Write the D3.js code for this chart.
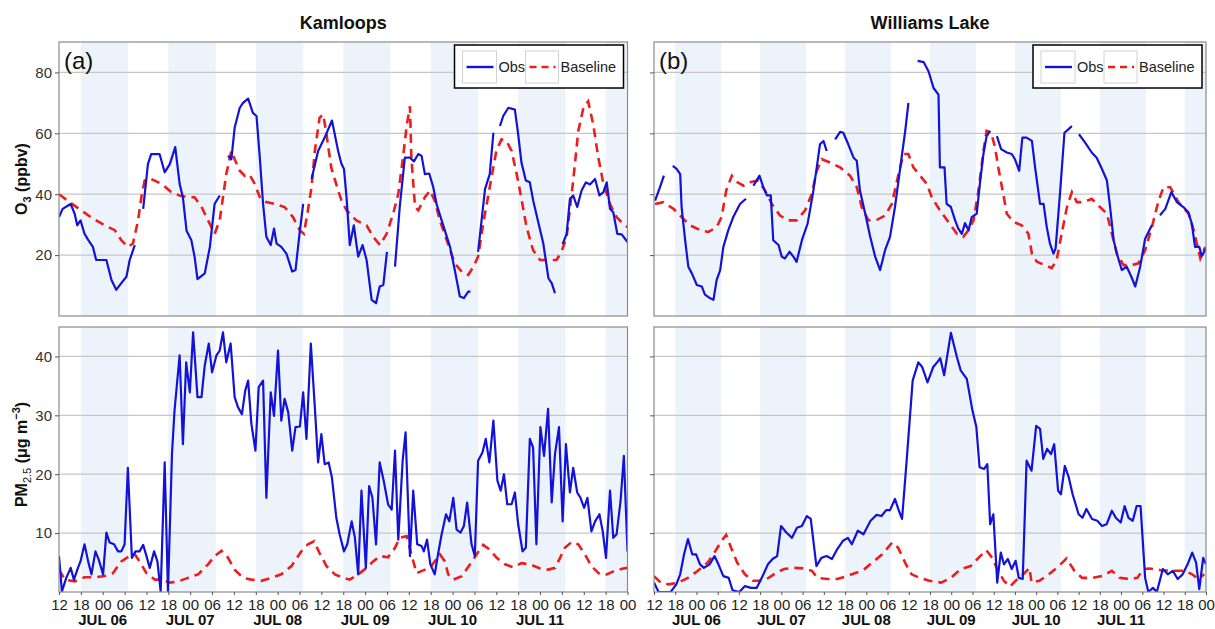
<!DOCTYPE html>
<html>
<head>
<meta charset="utf-8">
<script src="https://cdn.jsdelivr.net/npm/d3@7"></script>
<style>
body { margin: 0; background: #fff; }
svg text { font-family: "Liberation Sans", Arial, sans-serif; }
</style>
</head>
<body>
<script>
// series are [hour since Jul 05 12:00 UTC, value], null = gap in the record
var kamO3Obs = [[0,32.5],[1,35.2],[2.5,36.3],[3.2,36.8],[4.3,33.6],[5,29.8],[5.9,31.4],[7,27],[8,25],[9.3,22.7],[10.2,18.4],[13,18.4],[14.4,11.8],[15.7,8.6],[17.1,10.8],[18.5,12.9],[19.4,18.4],[20.8,23.3],[22,null],
  [23.1,35.2],[24.4,49.9],[25.3,53.2],[27.6,53.2],[29,47.2],[30.4,49.9],[31.9,55.5],[33.1,43.4],[34,39],[35,28],[36.3,25],[37.2,19.5],[38,12.1],[40,14],[41.4,22.7],[42.7,36.8],[44.1,39.6],[45,null],
  [46.4,52.6],[47.3,51.5],[48.2,61.8],[49.6,68.4],[50.5,70],[51.9,71.4],[53.2,66.7],[54.2,65.7],[55.1,52],[56,36.8],[56.9,26],[58.1,23.3],[59,28.7],[59.7,23.8],[61,22.7],[62.4,20.5],[64,14.6],[64.9,15.1],[66,27],[67,36.8],[68,null],
  [69.3,45],[71.1,54.2],[72.9,58.6],[74.9,64.2],[76.6,54.2],[77.5,50],[78.2,48.3],[78.9,39],[79.8,23.3],[80.9,29.8],[82.1,19.5],[83.3,23.3],[84.4,18.4],[85.8,5.3],[87,4.2],[88,9.7],[89,10.2],[90,21.1],[91,null],
  [92.2,16.2],[93.5,35.8],[94.9,52],[96.3,52],[97.4,50.8],[98.6,53.2],[99.5,52.6],[100.4,46.6],[101.6,46.8],[102.7,42.3],[103.6,36.8],[105,31.4],[106.3,26.5],[107.3,22.7],[108.6,15.1],[110,6.4],[111.1,5.9],[112.3,8],[112.9,8],[114,null],
  [115,21.1],[116.9,41.7],[118.2,46.6],[119.2,60.2],[120,null],[121,62.4],[121.9,65.7],[123.3,68.4],[125.1,67.8],[126,59.7],[126.9,50.4],[128.1,44.5],[129.2,43.9],[130.1,38],[131.5,30.9],[132.9,23.8],[134.3,12.4],[135.2,10.8],[136.1,7.5],[137,null],
  [138.2,23.6],[139.3,27],[140.2,38.5],[141.1,39.6],[142.2,35.8],[143.4,41.2],[144.6,43.9],[145.7,43.2],[147.1,45],[148.3,39.6],[149.4,40.7],[150.3,43.9],[151.2,35.2],[152.1,34.1],[153.2,27],[154.4,26.8],[156,24.3]];

var kamO3Base = [[0,40],[2.9,37.4],[6.1,34.7],[9.3,32],[12.5,29.8],[15.3,28.2],[17.1,24.9],[18.9,22.7],[20.3,23.8],[21.7,31.4],[22.6,39],[23.5,44.5],[25.3,45],[28.1,43.4],[30.8,40.7],[33.1,39.6],[35.4,39],[37.2,39],[39.1,35.8],[40.9,31.4],[42.7,27],[44.1,31.4],[45,39],[45.9,46.6],[47.3,54.2],[48.2,51.5],[49.6,47.7],[51,46],[52.3,46.4],[53.7,43.4],[55.1,39],[56.9,37.4],[59.2,36.8],[61.9,35.8],[64.2,32.5],[66.1,28.1],[67.2,27],[68.3,34.7],[69.3,42.3],[70.2,54.2],[71.5,65.1],[72.5,66.2],[73.4,59.7],[74.7,48.8],[76.6,41.2],[77.5,38],[78.9,34.7],[81.6,31.4],[84.4,29.8],[86.2,26],[88.1,23.3],[89.9,27],[91.7,33.6],[93.1,40.1],[94.5,53.2],[95.4,62.4],[96.3,68.9],[96.7,52],[97.7,35.8],[98.6,34.7],[100.4,39],[101.8,41.2],[103.1,37.9],[104.5,31.4],[106.4,24.9],[108.6,17.3],[110.9,14],[112.3,13.5],[113.7,16.2],[115,19.5],[116.4,30.3],[118.2,42.3],[120,54.2],[121.4,58],[122.8,57.5],[124.2,54.2],[125.6,46.6],[127,37.9],[128.3,29.2],[130.1,21.6],[132,18.4],[136.5,18.4],[137.9,21.1],[139.3,26],[141.1,44.5],[142.5,60.8],[143.9,68.4],[145.2,70.5],[146.6,62.9],[148,52],[149.4,43.4],[151.2,36.8],[153,32.5],[154.8,30.3],[156,29.2]];

var wlO3Obs = [[0.3,37.9],[1.7,42.3],[2.8,46.1],[4,null],[5.3,49.3],[6.4,48.3],[7.4,46.6],[7.8,35.8],[8.8,24.9],[9.7,16.2],[10.7,14],[12.1,10.2],[13.5,9.7],[14.4,7],[15.8,5.9],[16.8,5.3],[17.7,11.8],[18.7,15.1],[19.6,22.7],[21,28.2],[22.4,32.5],[24.3,36.8],[26,38.5],[27,null],
  [28.1,42.8],[29.8,46.1],[30.9,42.3],[31.9,39.6],[33,39.6],[33.7,24.9],[35.2,23.3],[36.1,19.5],[37,18.9],[38.3,21.1],[39.4,19.5],[40.3,17.8],[41.8,24.9],[43.4,30.3],[44.9,40.1],[46,48.8],[46.9,56.4],[47.9,57.5],[48.8,54.2],[50,null],
  [51.2,58],[52.6,60.5],[53.5,60.2],[54.9,56.4],[56.4,52],[57.3,51],[58.2,41.2],[59.7,33.6],[61.1,26],[62.5,19.5],[63.9,15.1],[65.3,21.6],[66.7,26],[68.1,35.8],[69.6,48.8],[71,60.8],[71.9,70],[73,null],
  [74.5,83.8],[76.2,83.4],[77.6,80.3],[79,74.9],[80.4,72.7],[80.8,48.8],[82.1,48.8],[82.7,36.8],[83.9,35.8],[85.1,31.4],[86,28.7],[87,27],[87.9,30.5],[88.9,28.2],[89.8,32.5],[91.2,33.6],[92.2,44.5],[93.1,53.2],[94,59.1],[95,60.8],[96,null],
  [96.9,59.1],[98.1,54.8],[99.7,53.7],[101.1,53.2],[102,51.5],[103.2,47.7],[104.1,58.6],[105.3,58.6],[106.8,57.5],[107.7,48.8],[109.1,36.8],[110.1,36.8],[111,29.2],[111.9,23.8],[112.9,20.5],[113.5,22.2],[114.8,41.2],[116,60.2],[117.1,61.3],[118.1,62.4],[119,null],
  [120.1,59.7],[121.8,57],[123.7,53.7],[125.1,52],[126.6,48.3],[128,44.5],[128.9,35.8],[129.9,24.9],[130.8,20.5],[132.2,15.1],[133.6,16.2],[134.9,12.9],[136,9.7],[137.4,16.2],[138.8,25.4],[140.7,29.8],[142,null],
  [143,33.1],[144.5,35.2],[146.2,40.7],[147.8,37.4],[149.6,35.8],[151,34.1],[152,30.3],[152.9,22.7],[154.1,22.7],[154.8,19.7],[156,22.2]];

var wlO3Base = [[0.3,36.8],[2.6,37.4],[5.5,35.2],[7.8,32.5],[10.2,29.8],[13,28.2],[15.4,27.6],[17.7,29.2],[19.1,32.5],[20.4,41.2],[22,46.1],[23.6,43.9],[25.3,42.8],[27.1,43.9],[29.5,44.5],[31.4,41.2],[33.3,36.8],[35.6,33],[38,31.4],[40.3,31.4],[42.7,34.7],[44.6,40.1],[46,47.7],[47.4,51.5],[49.8,50.4],[52.6,48.8],[55.4,46.1],[57.3,42.3],[58.7,35.8],[60.6,31.4],[63,31.6],[65.3,33],[67.2,36.8],[69.1,46.6],[70.5,53.2],[71.9,53.2],[73.3,48.8],[75.2,46.1],[77.1,43.4],[78.5,39],[80.8,34.7],[83.2,30.9],[85.6,27],[87.4,26],[88.9,28.2],[90.3,31.4],[91.7,41.2],[93.1,54.2],[94,60.8],[95.3,60.2],[96.4,55.3],[97.3,48.8],[98.7,40.1],[99.7,33.6],[101.6,30.9],[103.9,29.8],[105.8,27],[106.8,20.5],[108.2,17.8],[110.5,16.7],[112.4,15.7],[113.8,18.4],[115.2,27],[116.7,35.8],[118.1,40.7],[119.5,37.4],[121.4,37.4],[123.7,38.5],[125.6,36.3],[128,33.6],[129.4,27],[130.8,20.5],[132.7,16.7],[135,16.7],[136.9,17.3],[138.8,21.6],[140.7,29.2],[142.6,37.9],[144,42.3],[145.9,42.3],[148.2,37.4],[151.1,33.6],[152.5,28.2],[153.4,23.8],[154.4,18.9],[155.8,22.7]];

var kamPmObs = [[0,6.1],[0.8,0.1],[2,2.4],[3.2,4.1],[4.1,2.1],[5.2,4.1],[5.9,5.2],[7,8.1],[8,5.2],[8.9,3],[10,6.9],[10.9,5.5],[12.1,3],[13,10.1],[13.9,8.4],[15.1,8.1],[16.2,6.9],[17.1,6.9],[18,8.1],[18.9,21.1],[20,5.8],[21,6.9],[22.1,6.9],[23.1,8],[24,6.1],[24.9,4.1],[26.1,6.9],[27,5.2],[27.9,0.1],[29,22],[29.9,0],[31,23.4],[31.7,30.8],[33.1,40.2],[34,25.1],[34.9,39],[35.9,33.9],[36.8,44.1],[38,33.1],[39.1,33.1],[40,38.5],[41.1,42.2],[42,37.3],[43.2,40.2],[44.1,41],[45,44.1],[45.9,39],[47.1,42.2],[48.2,33.1],[49.1,31.4],[50.2,30.2],[51.1,34.2],[51.9,35.9],[52.8,28.5],[53.9,24],[54.8,34.8],[56,35.9],[56.9,16],[58.1,33.9],[59,29.9],[60.1,41],[61,29.1],[61.9,32.8],[62.9,30.5],[64,24],[64.9,28],[66.1,28.1],[67,33.9],[67.9,26],[69.1,42.2],[70.2,31.4],[71.1,22],[72,26.8],[72.9,21.7],[74,22],[74.9,19.4],[76.1,12.6],[77,9.8],
  [78.2,6.9],[79.1,8.1],[80.3,12],[81.2,9.2],[82.1,3],[83,17.2],[84.2,4.1],[85.1,18],[86,16],[87,8.1],[88,22],[89.1,18.9],[90.3,14.9],[91.3,14],[92.2,24],[93.1,8.9],[94.3,22.3],[95.1,27.1],[96.3,6.1],[97.2,17.2],[98.3,8.1],[99.5,7.8],[100.1,6.9],[101,8.9],[101.9,4.7],[103.1,3],[104,6.4],[105,9.8],[106.2,13.2],[107.1,12],[108.2,16],[109.1,10.6],[110.2,10.1],[111.1,11.2],[112,15.2],[113.2,8.1],[114.1,6.1],[115,22.3],[116.2,23.7],[117.1,26],[118.1,22],[119.2,29.1],[120.3,18.9],[121.2,17.2],[122.1,20],[123,14.9],[124.2,14.9],[125.1,16.9],[126,11.5],[127.2,6.9],[128.1,7.5],[129.2,26],[130.1,24.5],[131,8.1],[132.1,28],[133.1,23.1],[134.2,31.1],[135.2,15.2],[136.1,23.4],[137.2,28],[138.2,12],[139.1,25.1],[140.2,16.9],[141.1,21.1],[142.2,16.9],[143.1,16],[144.1,14.3],[145,16],[146.1,10.3],[147.1,12],[148.3,13.2],[149.2,10.3],[150.1,5.8],[151.2,17.2],[152.1,9.2],[153,9.8],[154.1,15.5],[155,23.1],[156,6.9]];

var kamPmBase = [[0,3.8],[1.6,2.1],[4.3,1.8],[7,2.5],[9.8,2.5],[12.5,2.7],[14.8,3.2],[17.1,5.2],[19.4,6.1],[20.8,6.4],[22.1,5.2],[24,3.2],[26.3,2.1],[28.1,2.1],[30.4,1.6],[32.7,1.8],[35.4,2.4],[38.2,3],[40.9,4.7],[42.7,6.1],[44.6,7],[46.4,5.8],[48.2,3.8],[50.5,2.4],[52.8,2.1],[55.5,1.9],[58.3,2.4],[61,3],[63.8,4.4],[66.5,6.9],[68.3,8.1],[70,8.6],[71.5,6.6],[73.4,4.4],[75.7,3],[78,2.4],[79.8,2.1],[82.1,3],[84.4,4.1],[86.2,5.2],[88.1,6.1],[90.3,5.9],[92.2,7.5],[93.5,9.2],[95.4,9.5],[96.7,6.4],[98.1,3.2],[100.4,3.8],[102.2,4.4],[104.5,6.4],[105.9,5.2],[106.8,3],[108.2,2.1],[110.5,2.7],[112.8,4.7],[114.6,6.4],[116.4,8],[118.2,7.2],[120.1,5.8],[122.4,4.7],[124.6,4.2],[126.9,4.9],[129.2,4.7],[132,4],[134.3,3.8],[136.1,4.1],[137.5,5.8],[138.8,7.5],[140.7,8.5],[142.5,8.1],[144.3,6.4],[146.1,4.4],[148.4,3],[150.3,3],[152.5,3.6],[154.8,4],[156,4.1]];

var wlPmObs = [[0,1.6],[1.3,0],[4.7,0],[6.3,1.3],[7.4,3],[8.5,6.4],[9.6,9],[10.8,6.4],[11.9,6.4],[13,4.7],[14.1,4.1],[15.7,4.7],[17.1,6.1],[18.2,4.7],[19.6,2.7],[21.1,2.4],[22.2,0.3],[24.1,0],[25.7,1],[27.4,0.7],[29,0.7],[30.7,2.7],[32.2,4.7],[33.5,5.6],[34.8,6.1],[35.9,11.2],[37.4,10.1],[39,9.2],[40.4,10.9],[41.8,11.2],[43.2,12.9],[44.3,12.4],[45.9,4.4],[47.3,5.8],[48.8,6.1],[50.3,5.6],[51.8,7.3],[53.4,8.7],[54.8,9.2],[55.9,8.1],[57.6,10.4],[59.2,9.8],[61.2,12.1],[62.9,13.1],[64.3,12.9],[65.6,13.9],[66.7,13.9],[68.1,15.8],[69.2,13.8],[70.1,12.4],[71.4,22.3],[73.1,35.9],[74.7,39],[75.8,38.2],[77.3,35.6],[78.9,38.2],[80,39],[80.9,39.7],[82,36.8],[83.9,44],[85.6,39.9],[86.7,37.6],[88.4,36.2],[90,30.8],[91.1,28],[92,21.2],[93.3,20.9],[94.2,21.7],[95,11.5],[95.9,13.2],[97,1.6],[98,6.7],[98.9,4.7],[100,5.6],[101.1,3.9],[102.2,5.3],[103.1,2.4],[104.2,2.2],[105.3,22.3],[106.7,20.6],[108,28.2],[109.1,27.7],[110,22.6],[111.1,24.3],[112.2,23.4],[113.1,25.1],[114.2,17.2],[115,16.6],[116.1,21.4],[117.2,19.5],[118.3,16.6],[120,13.2],[121.1,12.6],[122.2,14.1],[123.8,12.4],[125.3,12.1],[126.6,11.2],[127.9,11.5],[129.4,13.8],[130.5,12.6],[131.9,11.8],[133,14.6],[134.1,12.6],[135.3,12.1],[136.4,14.6],[137.5,14.6],[138.8,2.4],[139.7,0],[141,0.7],[142.1,0],[143.8,3.9],[145.2,3],[146.6,3.6],[148,2.2],[149.4,3],[150.8,4.7],[152.1,6.7],[153.2,5],[154.1,0.5],[155.2,5.8],[156,4.7]];

var wlPmBase = [[0,2.7],[1.9,1.6],[4.1,1.3],[6.9,1.6],[9.6,2.4],[12.4,3.6],[15.2,5],[17.4,7],[19.1,8.7],[20.4,9.7],[21.8,7.5],[23.5,5],[25.7,3],[27.9,1.9],[30.2,1.9],[32.4,2.4],[34.6,3.3],[36.8,3.9],[39.6,4.1],[42.4,4],[44.6,3.6],[46.2,2.4],[49,2.2],[51.8,2.2],[54.5,2.7],[57.3,3.3],[59.5,3.9],[62.3,5.3],[64.5,6.4],[67.3,8.4],[69,7.5],[71.2,4.7],[72.8,3],[75.1,2.4],[77.8,1.9],[81.2,1.6],[83.9,2.4],[86.7,3.9],[89.5,4.4],[91.7,5.8],[93.9,7.1],[95.6,5.8],[97.2,3.6],[98.9,1.9],[100.6,0.9],[102.2,1.9],[103.9,2.7],[106.1,4.1],[106.7,1.6],[108.9,1.9],[111.6,3],[114.4,4.4],[116.6,5.7],[118.8,3.6],[121,2.4],[123.8,2.4],[126.6,2.7],[129.4,3.6],[131.6,2.4],[134.4,2.2],[136.6,2.4],[138.3,3.9],[140,4],[143.3,3.7],[146.6,3.6],[149.9,3.6],[152.1,3],[153.8,2.2],[155.5,3]];

var sites = ["Kamloops", "Williams Lake"];
var tags = ["(a)", "(b)"];
var o3Ticks = [20, 40, 60, 80];
var pmTicks = [10, 20, 30, 40];
var legendLabels = ["Obs", "Baseline"];

var start = Date.UTC(2017, 6, 5, 12);
function hr(t) { return new Date(start + t * 3600e3); }

var obsColor = "#1212d8",
    baseColor = "#ee1d1d",
    nightColor = "#edf3fa";

var svg = d3.select("body").append("svg")
    .attr("width", 1215)
    .attr("height", 629);

var cols = [{x0: 59, x1: 627.5}, {x0: 654, x1: 1206}];
var rows = [
    {y0: 42, y1: 316, domain: [0, 90], ticks: o3Ticks, series: [[kamO3Obs, kamO3Base], [wlO3Obs, wlO3Base]]},
    {y0: 327, y1: 592, domain: [0, 45], ticks: pmTicks, series: [[kamPmObs, kamPmBase], [wlPmObs, wlPmBase]]}
];

// night bands, 18:00 -> 07:00
var nights = d3.utcDay.range(hr(-12), hr(156)).map(function (d) {
    return [d3.utcHour.offset(d, 18), d3.utcHour.offset(d, 31)];
});

rows.forEach(function (row, ri) {
    cols.forEach(function (col, ci) {
        var w = col.x1 - col.x0,
            h = row.y1 - row.y0;

        var x = d3.scaleUtc().domain([hr(0), hr(156)]).range([0, w]);
        var y = d3.scaleLinear().domain(row.domain).range([h, 0]);

        var g = svg.append("g").attr("transform", "translate(" + col.x0 + "," + row.y0 + ")");
        var clipId = "clip" + ri + ci;
        g.append("clipPath").attr("id", clipId)
            .append("rect").attr("width", w).attr("height", h);

        var body = g.append("g").attr("clip-path", "url(#" + clipId + ")");

        body.selectAll("rect.night")
            .data(nights)
            .enter().append("rect")
            .attr("class", "night")
            .attr("x", function (d) { return x(d[0]); })
            .attr("width", function (d) { return x(d[1]) - x(d[0]); })
            .attr("y", 0)
            .attr("height", h)
            .attr("fill", nightColor);

        body.selectAll("line.grid")
            .data(row.ticks)
            .enter().append("line")
            .attr("class", "grid")
            .attr("x1", 0).attr("x2", w)
            .attr("y1", function (d) { return y(d); })
            .attr("y2", function (d) { return y(d); })
            .attr("stroke", "#c6c6c6")
            .attr("stroke-width", 1.3);

        var line = d3.line()
            .defined(function (d) { return d[1] != null; })
            .x(function (d) { return x(hr(d[0])); })
            .y(function (d) { return y(d[1]); });

        var pair = row.series[ci];
        body.append("path")
            .datum(pair[1])
            .attr("d", line)
            .attr("fill", "none")
            .attr("stroke", baseColor)
            .attr("stroke-width", 2.6)
            .attr("stroke-dasharray", "9,6");

        body.append("path")
            .datum(pair[0])
            .attr("d", line)
            .attr("fill", "none")
            .attr("stroke", obsColor)
            .attr("stroke-width", 2.2)
            .attr("stroke-linejoin", "round");

        g.append("rect")
            .attr("width", w).attr("height", h)
            .attr("fill", "none")
            .attr("stroke", "#8a8a8a")
            .attr("stroke-width", 1.2);

        // y axis
        var yAxis = d3.axisLeft(y)
            .tickValues(row.ticks)
            .tickSize(4)
            .tickPadding(3)
            .tickFormat(ci === 0 ? d3.format("d") : function () { return ""; });
        var ya = g.append("g").call(yAxis);
        ya.select(".domain").remove();
        ya.selectAll("line").attr("stroke", "#555");
        ya.selectAll("text")
            .attr("font-size", 15)
            .attr("fill", "#333")
            .style("font-family", "Liberation Sans, Arial, sans-serif");

        if (ri === 1) {
            var xAxis = d3.axisBottom(x)
                .ticks(d3.utcHour.every(6))
                .tickSize(3)
                .tickPadding(4)
                .tickFormat(d3.utcFormat("%H"));
            var xa = g.append("g").attr("transform", "translate(0," + h + ")").call(xAxis);
            xa.select(".domain").remove();
            xa.selectAll("line").attr("stroke", "#555");
            xa.selectAll("text")
                .attr("font-size", 15)
                .attr("fill", "#222")
                .style("font-family", "Liberation Sans, Arial, sans-serif");

            g.selectAll("text.day")
                .data(d3.utcDay.range(hr(12), hr(156)))
                .enter().append("text")
                .attr("class", "day")
                .attr("x", function (d) { return x(d); })
                .attr("y", h + 33)
                .attr("text-anchor", "middle")
                .attr("font-size", 15)
                .attr("font-weight", "bold")
                .attr("fill", "#111")
                .text(function (d) { return d3.utcFormat("%b %d")(d).toUpperCase(); });
        }

        if (ri === 0) {
            svg.append("text")
                .attr("x", col.x0 + w / 2)
                .attr("y", 29)
                .attr("text-anchor", "middle")
                .attr("font-size", 18)
                .attr("font-weight", "bold")
                .attr("fill", "#111")
                .text(sites[ci]);

            g.append("text")
                .attr("x", 5)
                .attr("y", 27)
                .attr("font-size", 24)
                .attr("fill", "#111")
                .text(tags[ci]);

            // legend
            var lg = g.append("g").attr("transform", "translate(" + (w - 173) + ",3)");
            lg.append("rect")
                .attr("width", 169).attr("height", 43)
                .attr("fill", "#fff")
                .attr("stroke", "#000")
                .attr("stroke-width", 1.5);
            var keys = [{x: 8, w: 34, c: obsColor, dash: null, sw: 2.4},
                        {x: 71, w: 33, c: baseColor, dash: "7,5", sw: 2.6}];
            keys.forEach(function (k, i) {
                lg.append("rect")
                    .attr("x", k.x).attr("y", 6)
                    .attr("width", k.w).attr("height", 32)
                    .attr("fill", "#fff")
                    .attr("stroke", "#d2d2d2");
                lg.append("line")
                    .attr("x1", k.x + 4).attr("x2", k.x + k.w - 3)
                    .attr("y1", 22).attr("y2", 22)
                    .attr("stroke", k.c)
                    .attr("stroke-width", k.sw)
                    .attr("stroke-dasharray", k.dash);
                lg.append("text")
                    .attr("x", k.x + k.w + 2)
                    .attr("y", 27)
                    .attr("font-size", 14.5)
                    .attr("fill", "#222")
                    .text(legendLabels[i]);
            });
        }
    });
});

// y titles
var o3Title = svg.append("text")
    .attr("transform", "translate(27," + (rows[0].y0 + rows[0].y1) / 2 + ") rotate(-90)")
    .attr("text-anchor", "middle")
    .attr("font-size", 16)
    .attr("font-weight", "bold")
    .attr("fill", "#111");
o3Title.append("tspan").text("O");
o3Title.append("tspan").attr("font-size", 11).attr("dy", 4).text("3");
o3Title.append("tspan").attr("dy", -4).text(" (ppbv)");

var pmTitle = svg.append("text")
    .attr("transform", "translate(27," + ((rows[1].y0 + rows[1].y1) / 2 - 5) + ") rotate(-90)")
    .attr("text-anchor", "middle")
    .attr("font-size", 16)
    .attr("font-weight", "bold")
    .attr("fill", "#111");
pmTitle.append("tspan").text("PM");
pmTitle.append("tspan").attr("font-size", 11).attr("font-weight", "normal").attr("dy", 4).text("2.5");
pmTitle.append("tspan").attr("dy", -4).text(" (μg m");
pmTitle.append("tspan").attr("font-size", 11).attr("dy", -7).text("−3");
pmTitle.append("tspan").attr("dy", 7).text(")");
</script>
</body>
</html>
